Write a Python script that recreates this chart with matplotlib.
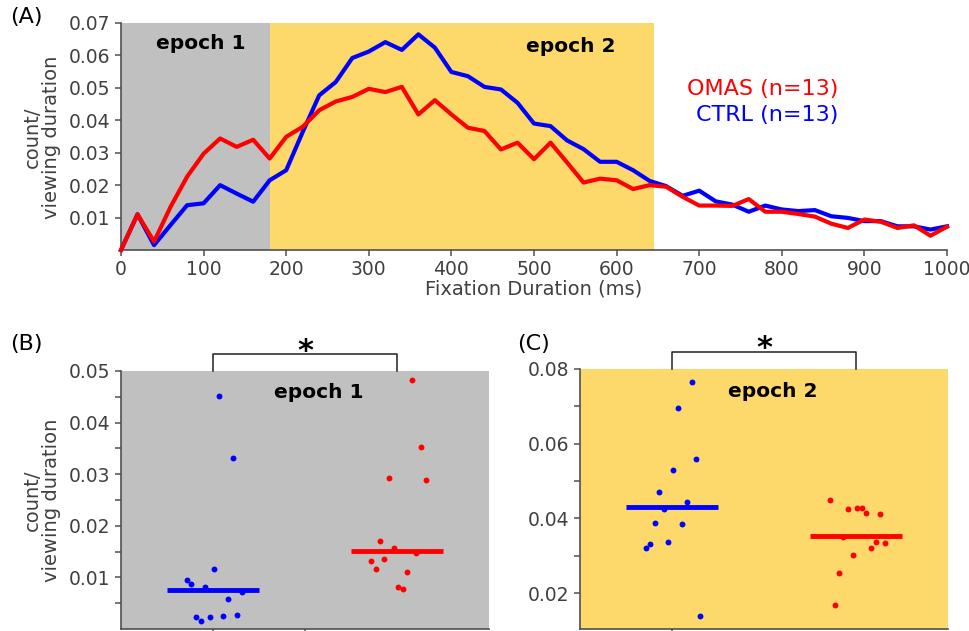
import numpy as np
import matplotlib
matplotlib.use("Agg")
import matplotlib.pyplot as plt

# ---- data ----
t_ms = list(range(0, 1001, 20))
omas = [0, 0.011, 0.0026, 0.0133, 0.0226, 0.0297, 0.0344, 0.0318, 0.034, 0.0282,
        0.0349, 0.038, 0.0431, 0.0458, 0.0472, 0.0497, 0.0487, 0.0503, 0.0418, 0.0462,
        0.0418, 0.0377, 0.0367, 0.031, 0.0331, 0.028, 0.0331, 0.027, 0.0208, 0.022,
        0.0215, 0.0188, 0.02, 0.0195, 0.0164, 0.0137, 0.0137, 0.0136, 0.0157, 0.0118,
        0.0118, 0.0111, 0.0103, 0.0081, 0.0068, 0.0094, 0.0087, 0.0068, 0.0076, 0.0044,
        0.0072]
ctrl = [0, 0.011, 0.0015, 0.0077, 0.0138, 0.0144, 0.02, 0.0174, 0.0149, 0.0215,
        0.0246, 0.0364, 0.0477, 0.0518, 0.0592, 0.0612, 0.0641, 0.0617, 0.0665, 0.0624,
        0.0549, 0.0536, 0.0503, 0.0495, 0.0454, 0.039, 0.0382, 0.0338, 0.0311, 0.0272,
        0.0272, 0.0246, 0.0213, 0.0197, 0.0167, 0.0183, 0.015, 0.014, 0.0118, 0.0137,
        0.0125, 0.012, 0.0123, 0.0104, 0.0099, 0.0089, 0.0089, 0.0073, 0.0073, 0.0063,
        0.0073]
epoch1 = (0, 180)
epoch2 = (180, 645)

# epoch 1, per subject
e1_ctrl = [0.0452, 0.0332, 0.0117, 0.00955, 0.00872, 0.0082, 0.00724, 0.00576,
           0.0023, 0.00159, 0.0023, 0.00249, 0.00268]
e1_ctrl_jit = [0.032, 0.106, 0.007, -0.142, -0.117, -0.043, 0.157, 0.081,
               -0.092, -0.067, -0.018, 0.056, 0.132]
e1_omas = [0.0483, 0.0353, 0.0293, 0.0289, 0.0171, 0.0157, 0.0147, 0.0135,
           0.0131, 0.0117, 0.0111, 0.0082, 0.0078]
e1_omas_jit = [0.082, 0.132, -0.042, 0.156, -0.091, -0.015, 0.105, -0.068,
               -0.141, -0.116, 0.057, 0.008, 0.035]
e1_med = [0.00756, 0.0151]

# epoch 2, per subject
e2_ctrl = [0.0764, 0.0696, 0.0558, 0.053, 0.0472, 0.0443, 0.0424, 0.0389,
           0.0386, 0.0337, 0.0332, 0.0321, 0.014]
e2_ctrl_jit = [0.106, 0.03, 0.129, 0.005, -0.068, 0.079, -0.041, -0.093,
               0.056, -0.02, -0.118, -0.142, 0.154]
e2_omas = [0.0449, 0.0424, 0.0428, 0.0427, 0.0414, 0.0412, 0.0349, 0.0337,
           0.0334, 0.0322, 0.0301, 0.0255, 0.0167]
e2_omas_jit = [-0.14, -0.041, 0.005, 0.03, 0.057, 0.131, -0.07, 0.106,
               0.156, 0.081, -0.016, -0.091, -0.115]
e2_med = [0.043, 0.0353]

GRAY = "#C0C0C0"
YEL = "#FDD96B"
AX = "#505050"
TXT = "#404040"

W, H = 970, 631
fig = plt.figure(figsize=(W / 100, H / 100), dpi=100)


def box(l, t, r, b):
    return [l / W, 1 - b / H, (r - l) / W, (b - t) / H]


def style(ax):
    for s in ["top", "right"]:
        ax.spines[s].set_visible(False)
    for s in ["left", "bottom"]:
        ax.spines[s].set_color(AX)
        ax.spines[s].set_linewidth(1.2)
    ax.tick_params(which="both", direction="out", length=4, width=1.1,
                   color=AX, labelcolor=TXT, labelsize=13.5)


# ---- (A) ----
axA = fig.add_axes(box(121, 23, 947, 250))
style(axA)
axA.axvspan(*epoch1, color=GRAY, lw=0, zorder=0)
axA.axvspan(*epoch2, color=YEL, lw=0, zorder=0)
axA.plot(t_ms, ctrl, color="#0000FF", lw=3, zorder=3, clip_on=False)
axA.plot(t_ms, omas, color="#FF0000", lw=3, zorder=4, clip_on=False)
axA.set_xlim(0, 1000)
axA.set_ylim(0, 0.07)
axA.set_xticks(range(0, 1001, 100))
axA.set_yticks([0.01, 0.02, 0.03, 0.04, 0.05, 0.06, 0.07])
axA.set_yticklabels(["0.01", "0.02", "0.03", "0.04", "0.05", "0.06", "0.07"])
axA.set_xlabel("Fixation Duration (ms)", fontsize=14, color=TXT, labelpad=0)
axA.text(96, 0.0637, "epoch 1", fontsize=14.5, fontweight="bold", ha="center", va="center")
axA.text(545, 0.0628, "epoch 2", fontsize=14.5, fontweight="bold", ha="center", va="center")
axA.text(868, 0.0498, "OMAS (n=13)", color="#FF0000", fontsize=16, ha="right", va="center")
axA.text(868, 0.0415, "CTRL (n=13)", color="#0000FF", fontsize=16, ha="right", va="center")
fig.text(10 / W, 1 - 17 / H, "(A)", fontsize=16, va="center", ha="left")
fig.text(42 / W, 1 - 137 / H, "count/\nviewing duration", fontsize=14, rotation=90,
         ha="center", va="center", color=TXT, linespacing=1.0)


def scatter_panel(ax, ylo, yhi, c_vals, c_jit, o_vals, o_jit, med, bg, label, lx):
    style(ax)
    ax.set_facecolor(bg)
    ax.set_xlim(0.5, 2.5)
    ax.set_ylim(ylo, yhi)
    ax.scatter(1 + np.array(c_jit), c_vals, s=18, color="#0000FF", lw=0, zorder=3, clip_on=False)
    ax.scatter(2 + np.array(o_jit), o_vals, s=18, color="#FF0000", lw=0, zorder=3, clip_on=False)
    ax.hlines(med[0], 0.75, 1.25, color="#0000FF", lw=3.5, zorder=4)
    ax.hlines(med[1], 1.75, 2.25, color="#FF0000", lw=3.5, zorder=4)
    ax.text(lx, yhi - (yhi - ylo) * 0.085, label, fontsize=14.5, fontweight="bold",
            ha="center", va="center")
    # significance bracket above the plot
    span = yhi - ylo
    yb = yhi + span * 0.065
    ax.plot([1, 1, 2, 2], [yhi, yb, yb, yhi], color="#202020", lw=1.1, clip_on=False)
    ax.text(1.5, yb + span * 0.012, "*", fontsize=22, fontweight="bold",
            ha="center", va="center")


# ---- (B) ----
axB = fig.add_axes(box(121, 371, 489, 629))
scatter_panel(axB, 0, 0.05, e1_ctrl, e1_ctrl_jit, e1_omas, e1_omas_jit, e1_med, GRAY,
              "epoch 1", 1.576)
axB.set_yticks([0.01, 0.02, 0.03, 0.04, 0.05])
axB.set_yticklabels(["0.01", "0.02", "0.03", "0.04", "0.05"])
axB.set_yticks([0.005, 0.015, 0.025, 0.035, 0.045], minor=True)
axB.set_xticks([1, 1.5])
axB.set_xticklabels(["", ""])
fig.text(10 / W, 1 - 344 / H, "(B)", fontsize=16, va="center", ha="left")
fig.text(42 / W, 1 - 500 / H, "count/\nviewing duration", fontsize=14, rotation=90,
         ha="center", va="center", color=TXT, linespacing=1.0)

# ---- (C) ----
axC = fig.add_axes(box(580, 369, 948, 629))
scatter_panel(axC, 0.0104, 0.08, e2_ctrl, e2_ctrl_jit, e2_omas, e2_omas_jit, e2_med, YEL,
              "epoch 2", 1.55)
axC.set_yticks([0.02, 0.04, 0.06, 0.08])
axC.set_yticklabels(["0.02", "0.04", "0.06", "0.08"])
axC.set_yticks([0.03, 0.05, 0.07], minor=True)
axC.set_xticks([1])
axC.set_xticklabels([""])
fig.text(517 / W, 1 - 344 / H, "(C)", fontsize=16, va="center", ha="left")

fig.savefig("out.png", dpi=100)
